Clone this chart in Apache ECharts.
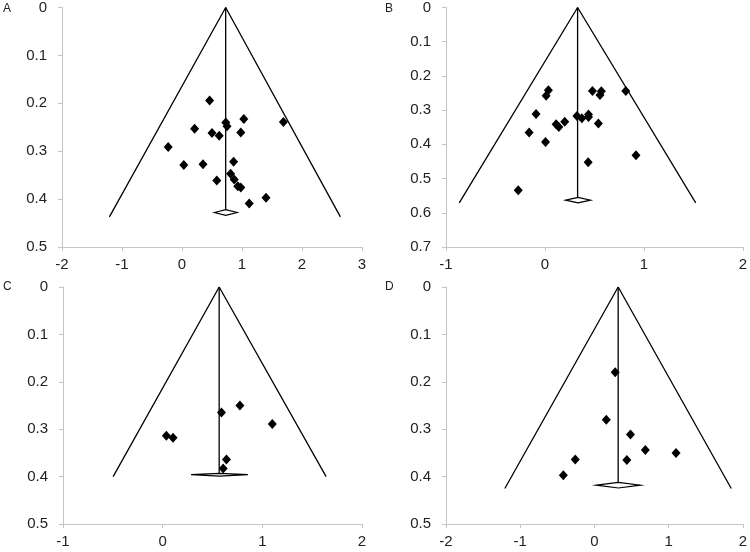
<!DOCTYPE html>
<html>
<head>
<meta charset="utf-8">
<script src="https://cdn.jsdelivr.net/npm/echarts@6/dist/echarts.min.js"></script>
<style>
  html, body { margin: 0; padding: 0; background: #fff; }
  #main { width: 750px; height: 552px; }
</style>
</head>
<body>
<div id="main"></div>
<script>
// panel A
var aEffect = [0.46, 1.03, 1.69, 0.73, 0.75, 0.21, 0.50, 0.98, 0.62, -0.23, 0.03, 0.35, 0.86, 0.81, 0.58, 0.87, 0.93, 0.98, 1.40, 1.12];
var aSE     = [0.194, 0.233, 0.239, 0.240, 0.248, 0.253, 0.262, 0.261, 0.268, 0.291, 0.329, 0.327, 0.322, 0.347, 0.361, 0.359, 0.373, 0.376, 0.397, 0.409];
var aFunnel = [-1.21, 0.728, 2.64, 0.437];     // left, pooled, right, base SE
var aDiamond = [0.54, 0.92, 0.428, 0.006];     // low, high, y, half height

// panel B
var bEffect = [0.035, 0.012, 0.48, 0.57, 0.556, 0.817, -0.09, 0.113, 0.14, 0.2, 0.323, 0.373, 0.44, 0.44, 0.54, -0.16, 0.006, 0.437, 0.92, -0.27];
var bSE     = [0.242, 0.258, 0.244, 0.245, 0.256, 0.244, 0.311, 0.341, 0.349, 0.334, 0.317, 0.324, 0.313, 0.320, 0.339, 0.365, 0.393, 0.452, 0.432, 0.534];
var bFunnel = [-0.866, 0.33, 1.524, 0.571];
var bDiamond = [0.21, 0.46, 0.563, 0.008];

// panel C
var cEffect = [0.037, 0.104, 0.59, 0.775, 1.10, 0.64, 0.607];
var cSE     = [0.314, 0.318, 0.265, 0.250, 0.289, 0.364, 0.383];
var cFunnel = [-0.497, 0.567, 1.64, 0.400];
var cDiamond = [0.285, 0.855, 0.396, 0.003];

// panel D
var dEffect = [0.28, 0.16, 0.486, 0.686, 1.10, -0.258, 0.437, -0.419];
var dSE     = [0.180, 0.280, 0.311, 0.344, 0.350, 0.364, 0.365, 0.397];
var dFunnel = [-1.207, 0.32, 1.844, 0.425];
var dDiamond = [0.027, 0.62, 0.418, 0.006];

// axis ranges
var xMin = [-2, -1, -1, -2];
var xMax = [3, 2, 2, 2];
var yMax = [0.5, 0.7, 0.5, 0.5];
var panelNames = ['A', 'B', 'C', 'D'];

var panels = [
  { eff: aEffect, se: aSE, funnel: aFunnel, diamond: aDiamond },
  { eff: bEffect, se: bSE, funnel: bFunnel, diamond: bDiamond },
  { eff: cEffect, se: cSE, funnel: cFunnel, diamond: cDiamond },
  { eff: dEffect, se: dSE, funnel: dFunnel, diamond: dDiamond }
];

var grids = [
  { left: 62, top: 7.5, width: 300, height: 239.5 },
  { left: 446, top: 7.5, width: 299, height: 239.5 },
  { left: 63, top: 287, width: 299, height: 237 },
  { left: 446, top: 287, width: 299, height: 237 }
];

var axisFont = { color: '#222', fontSize: 15, fontFamily: 'Liberation Sans, Arial, sans-serif' };
var axisGray = '#c4c4c4';

var xAxes = [], yAxes = [], series = [];
panels.forEach(function (p, i) {
  xAxes.push({
    gridIndex: i, type: 'value', min: xMin[i], max: xMax[i], interval: 1,
    axisLine: { show: true, onZero: false, lineStyle: { color: axisGray, width: 1 } },
    axisTick: { show: true, length: 4, lineStyle: { color: axisGray } },
    axisLabel: Object.assign({ margin: 10 }, axisFont),
    splitLine: { show: false }
  });
  yAxes.push({
    gridIndex: i, type: 'value', inverse: true, min: 0, max: yMax[i], interval: 0.1,
    axisLine: { show: true, onZero: false, lineStyle: { color: axisGray, width: 1 } },
    axisTick: { show: true, length: 4, lineStyle: { color: axisGray } },
    axisLabel: Object.assign({ margin: 15 }, axisFont),
    splitLine: { show: false }
  });

  var f = p.funnel, d = p.diamond;
  // funnel sides
  series.push({
    type: 'line', xAxisIndex: i, yAxisIndex: i, symbol: 'none', silent: true,
    lineStyle: { color: '#000', width: 1.3 },
    data: [[f[0], f[3]], [f[1], 0], [f[2], f[3]]]
  });
  // pooled estimate line
  series.push({
    type: 'line', xAxisIndex: i, yAxisIndex: i, symbol: 'none', silent: true,
    lineStyle: { color: '#000', width: 1.3 },
    data: [[f[1], 0], [f[1], d[2] - d[3]]]
  });
  // summary diamond
  series.push({
    type: 'custom', xAxisIndex: i, yAxisIndex: i, silent: true,
    data: [[d[0], d[1], d[2], d[3]]],
    renderItem: function (params, api) {
      var lo = api.value(0), hi = api.value(1), yc = api.value(2), h = api.value(3);
      var mid = (lo + hi) / 2;
      var pts = [
        api.coord([lo, yc]),
        api.coord([mid, yc - h]),
        api.coord([hi, yc]),
        api.coord([mid, yc + h])
      ];
      return {
        type: 'polygon',
        shape: { points: pts },
        style: { fill: '#fff', stroke: '#000', lineWidth: 1.2 }
      };
    }
  });
  // studies
  series.push({
    type: 'scatter', xAxisIndex: i, yAxisIndex: i,
    symbol: 'diamond', symbolSize: [9, 10],
    itemStyle: { color: '#000', opacity: 1 },
    data: p.eff.map(function (x, k) { return [x, p.se[k]]; })
  });
});

var titles = panelNames.map(function (n, i) {
  return {
    text: n,
    left: i % 2 === 0 ? 3 : 385,
    top: i < 2 ? 3 : 281,
    padding: 0,
    textStyle: { fontSize: 12, fontWeight: 'normal', color: '#222', fontFamily: 'Liberation Sans, Arial, sans-serif' }
  };
});

var chart = echarts.init(document.getElementById('main'));
chart.setOption({
  animation: false,
  backgroundColor: '#fff',
  title: titles,
  grid: grids,
  xAxis: xAxes,
  yAxis: yAxes,
  series: series
});
</script>
</body>
</html>
